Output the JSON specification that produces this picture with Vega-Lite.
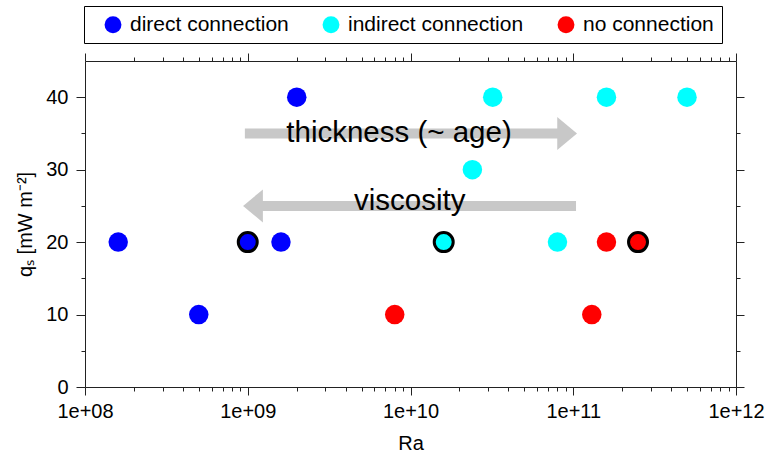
{
  "$schema": "https://vega.github.io/schema/vega-lite/v6.json",
  "width": 651,
  "height": 326,
  "autosize": {"type": "none"},
  "padding": {"left": 85, "top": 61, "right": 31, "bottom": 65},
  "background": "white",
  "config": {
    "font": "Liberation Sans",
    "view": {"stroke": null},
    "axis": {
      "domainColor": "#222",
      "tickColor": "#222",
      "labelFont": "Liberation Sans",
      "labelFontSize": 20,
      "labelColor": "black",
      "titleFont": "Liberation Sans",
      "titleFontSize": 20,
      "titleFontWeight": "normal",
      "titleColor": "black",
      "grid": false,
      "labelFlush": false,
      "labelOverlap": false,
      "labelBound": false
    }
  },
  "datasets": {
    "points": [
      {"Ra": 1.6e8, "qs": 20, "type": "direct connection", "outline": false},
      {"Ra": 5.0e8, "qs": 10, "type": "direct connection", "outline": false},
      {"Ra": 1.0e9, "qs": 20, "type": "direct connection", "outline": true},
      {"Ra": 1.6e9, "qs": 20, "type": "direct connection", "outline": false},
      {"Ra": 2.0e9, "qs": 40, "type": "direct connection", "outline": false},
      {"Ra": 3.2e10, "qs": 40, "type": "indirect connection", "outline": false},
      {"Ra": 2.4e10, "qs": 30, "type": "indirect connection", "outline": false},
      {"Ra": 1.6e10, "qs": 20, "type": "indirect connection", "outline": true},
      {"Ra": 8.0e10, "qs": 20, "type": "indirect connection", "outline": false},
      {"Ra": 1.6e11, "qs": 40, "type": "indirect connection", "outline": false},
      {"Ra": 5.0e11, "qs": 40, "type": "indirect connection", "outline": false},
      {"Ra": 8.0e9, "qs": 10, "type": "no connection", "outline": false},
      {"Ra": 1.3e11, "qs": 10, "type": "no connection", "outline": false},
      {"Ra": 1.6e11, "qs": 20, "type": "no connection", "outline": false},
      {"Ra": 2.5e11, "qs": 20, "type": "no connection", "outline": true}
    ],
    "arrows": [
      {"name": "thickness", "x1": 9.6e8, "x2": 9.17e10, "y": 35},
      {"name": "viscosity", "x1": 1.077e9, "x2": 1.04e11, "y": 25}
    ],
    "heads": [
      {"name": "thickness", "x": 9.17e10, "y": 35, "dir": "right"},
      {"name": "viscosity", "x": 1.077e9, "y": 25, "dir": "left"}
    ],
    "labels": [
      {"text": "thickness (~ age)", "x": 8.5e9, "y": 33.8},
      {"text": "viscosity", "x": 9.9e9, "y": 24.4}
    ]
  },
  "layer": [
    {
      "data": {"name": "arrows"},
      "mark": {"type": "rule", "color": "#c8c8c8", "strokeWidth": 10, "strokeCap": "butt"},
      "encoding": {
        "x": {"field": "x1", "type": "quantitative", "scale": {"type": "log", "domain": [1e8, 1e12], "nice": false}, "axis": null},
        "x2": {"field": "x2"},
        "y": {"field": "y", "type": "quantitative", "scale": {"domain": [0, 45], "nice": false}, "axis": null}
      }
    },
    {
      "data": {"name": "heads"},
      "mark": {"type": "point", "filled": true, "color": "#c8c8c8", "size": 1089, "strokeWidth": 0, "opacity": 1},
      "encoding": {
        "x": {"field": "x", "type": "quantitative", "axis": null},
        "y": {"field": "y", "type": "quantitative", "axis": null},
        "shape": {"field": "dir", "type": "nominal", "scale": {"domain": ["right", "left"], "range": ["M-0.6,-1L0.6,0L-0.6,1Z", "M0.6,-1L-0.6,0L0.6,1Z"]}, "legend": null}
      }
    },
    {
      "data": {"name": "labels"},
      "mark": {"type": "text", "fontSize": 29.5, "font": "Liberation Sans", "baseline": "alphabetic", "align": "center", "color": "black"},
      "encoding": {
        "x": {"field": "x", "type": "quantitative", "axis": null},
        "y": {"field": "y", "type": "quantitative", "axis": null},
        "text": {"field": "text"}
      }
    },
    {
      "data": {"name": "points"},
      "mark": {"type": "point", "filled": true, "size": 380, "strokeWidth": 0, "opacity": 1},
      "encoding": {
        "x": {
          "field": "Ra", "type": "quantitative", "title": "Ra",
          "axis": {
            "orient": "bottom",
            "values": [1e8,2e8,3e8,4e8,5e8,6e8,7e8,8e8,9e8,1e9,2e9,3e9,4e9,5e9,6e9,7e9,8e9,9e9,1e10,2e10,3e10,4e10,5e10,6e10,7e10,8e10,9e10,1e11,2e11,3e11,4e11,5e11,6e11,7e11,8e11,9e11,1e12],
            "tickSize": {"condition": {"test": "abs(log(datum.value)/LN10 - round(log(datum.value)/LN10)) < 0.001", "value": 8}, "value": 4},
            "labelExpr": "abs(log(datum.value)/LN10 - round(log(datum.value)/LN10)) < 0.001 ? '1e+' + (round(log(datum.value)/LN10) < 10 ? '0' : '') + round(log(datum.value)/LN10) : ''",
            "labelPadding": 6,
            "titlePadding": 12
          }
        },
        "y": {
          "field": "qs", "type": "quantitative", "title": "qₛ [mW m⁻²]",
          "axis": {
            "orient": "left",
            "values": [0,5,10,15,20,25,30,35,40],
            "tickSize": {"condition": {"test": "datum.value % 10 === 0", "value": 9}, "value": 4},
            "labelExpr": "datum.value % 10 === 0 ? datum.label : ''",
            "labelPadding": 8,
            "titlePadding": 10
          }
        },
        "color": {
          "field": "type", "type": "nominal",
          "scale": {"domain": ["direct connection", "indirect connection", "no connection"], "range": ["#0000ff", "#00ffff", "#ff0000"]},
          "legend": {
            "title": null,
            "orient": "none",
            "legendX": -1,
            "legendY": -55,
            "direction": "horizontal",
            "gridAlign": "each",
            "symbolType": "circle",
            "symbolSize": 285,
            "symbolStrokeWidth": 0,
            "symbolOpacity": 1,
            "symbolOffset": 10.5,
            "labelFontSize": 21,
            "labelFont": "Liberation Sans",
            "labelColor": "black",
            "labelOffset": 6.5,
            "labelLimit": 400,
            "labelExpr": "datum.label == 'no connection' ? 'no connection    ' : datum.label",
            "columnPadding": 21,
            "padding": 8,
            "strokeColor": "black",
            "fillColor": "white"
          }
        }
      }
    },
    {
      "data": {"name": "points"},
      "transform": [{"filter": "datum.outline"}],
      "mark": {"type": "point", "filled": false, "size": 360, "stroke": "black", "strokeWidth": 3, "opacity": 1},
      "encoding": {
        "x": {
          "field": "Ra", "type": "quantitative",
          "axis": {
            "orient": "top",
            "title": null,
            "values": [1e8,2e8,3e8,4e8,5e8,6e8,7e8,8e8,9e8,1e9,2e9,3e9,4e9,5e9,6e9,7e9,8e9,9e9,1e10,2e10,3e10,4e10,5e10,6e10,7e10,8e10,9e10,1e11,2e11,3e11,4e11,5e11,6e11,7e11,8e11,9e11,1e12],
            "tickSize": {"condition": {"test": "abs(log(datum.value)/LN10 - round(log(datum.value)/LN10)) < 0.001", "value": 8}, "value": 4},
            "labels": false
          }
        },
        "y": {
          "field": "qs", "type": "quantitative",
          "axis": {
            "orient": "right",
            "title": null,
            "values": [0,5,10,15,20,25,30,35,40],
            "tickSize": {"condition": {"test": "datum.value % 10 === 0", "value": 8}, "value": 4},
            "labels": false
          }
        }
      }
    }
  ],
  "resolve": {"axis": {"x": "independent", "y": "independent"}}
}
